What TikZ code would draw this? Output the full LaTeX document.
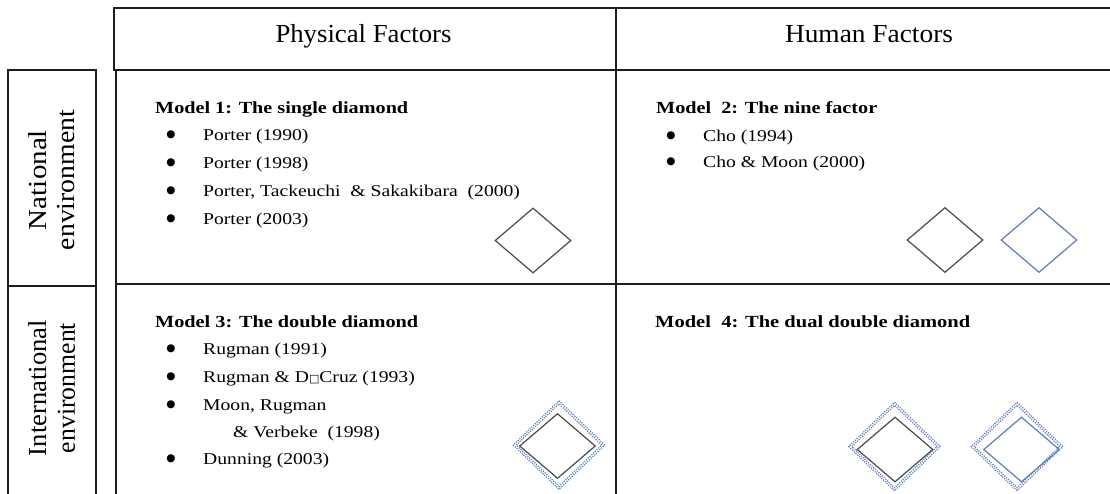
\documentclass[tikz,border=0pt]{standalone}
\usepackage{fontspec}
\usepackage{graphicx}
\setmainfont{Liberation Serif}
\newfontfamily\bodyf[FakeStretch=1.19]{Liberation Serif}
\newfontfamily\boxf{DejaVu Sans}
\usetikzlibrary{shapes.geometric}
\newcommand{\fitw}[2]{\resizebox{#1}{\height}{#2}}
\definecolor{rblue}{HTML}{5B7FB6}
\definecolor{rgray}{HTML}{4A4A4A}
\begin{document}
\begin{tikzpicture}[x=1pt,y=-1pt,
  gridline/.style={line width=2pt, draw=black!88},
  hdr/.style={font=\fontsize{26}{30}\selectfont, anchor=base, inner sep=0pt},
  mhead/.style={font=\fontsize{17}{20}\selectfont\bfseries, anchor=base west, inner sep=0pt},
  item/.style={font=\bodyf\fontsize{16.5}{20}\selectfont, anchor=base west, inner sep=0pt},
  bul/.style={font=\boxf\fontsize{10.5}{11}\selectfont, anchor=base, inner sep=0pt, yshift=2.2pt},
  side/.style={font=\fontsize{26}{28}\selectfont, rotate=90, align=center, inner sep=0pt},
  rh/.style={diamond, draw=rgray, line width=1.2pt, minimum width=76pt, minimum height=65pt, inner sep=0pt},
  rhblue/.style={rh, draw=rblue},
  dotrh/.style={diamond, draw=rblue, line width=1.2pt, dash pattern=on 1.2pt off 1.2pt, inner sep=0pt},
]
\useasboundingbox (0,0) rectangle (1110,493);
\fill[white] (0,0) rectangle (1110,493);

% header box
\coordinate (h1) at (114,8);
\coordinate (h2) at (1110,8);
\coordinate (h3) at (114,70);
\coordinate (h4) at (1110,70);
\draw[gridline] (h2) -- (h1) -- (h3) -- (h4);
% column divider
\coordinate (v1) at (616,8);
\coordinate (v2) at (616,494);
\draw[gridline] (v1) -- (v2);
% main grid left and row divider
\coordinate (g1) at (116,70);
\coordinate (g2) at (116,494);
\coordinate (r1) at (116,284);
\coordinate (r2) at (1110,284);
\draw[gridline] (g1) -- (g2);
\draw[gridline] (r1) -- (r2);
% side boxes
\coordinate (s1) at (8,494);
\coordinate (s2) at (8,70);
\coordinate (s3) at (96,70);
\coordinate (s4) at (96,494);
\coordinate (s5) at (8,286);
\coordinate (s6) at (96,286);
\draw[gridline] (s1) -- (s2) -- (s3) -- (s4);
\draw[gridline] (s5) -- (s6);

% headers
\node[hdr] (phys) at (363.5,42) {\fitw{176pt}{Physical Factors}};
\node[hdr] (hum) at (869,42) {\fitw{168pt}{Human Factors}};

% side labels
\node[side] (nat) at (52,180) {\fitw{100pt}{National}\\\fitw{140pt}{environment}};
\node[side] (intl) at (52,388) {\fitw{136pt}{International}\\\fitw{130pt}{environment}};

% Model 1
\node[mhead] (m1) at (155,113) {\fitw{253pt}{Model 1: The single diamond}};
\node[bul] (b11) at (171,140) {●};
\node[item] (t11) at (203,140) {Porter (1990)};
\node[bul] (b12) at (171,168) {●};
\node[item] (t12) at (203,168) {Porter (1998)};
\node[bul] (b13) at (171,196) {●};
\node[item] (t13) at (203,196) {Porter, Tackeuchi~~\& Sakakibara~~(2000)};
\node[bul] (b14) at (171,224) {●};
\node[item] (t14) at (203,224) {Porter (2003)};
\node[rh] (d1) at (533,240.5) {};

% Model 2
\node[mhead] (m2) at (656,113) {\fitw{221pt}{Model~~2: The nine factor}};
\node[bul] (b21) at (671,141) {●};
\node[item] (t21) at (703,141) {Cho (1994)};
\node[bul] (b22) at (671,167) {●};
\node[item] (t22) at (703,167) {Cho \& Moon (2000)};
\node[rh] (d2a) at (945,240) {};
\node[rhblue] (d2b) at (1039,240) {};

% Model 3
\node[mhead] (m3) at (155,327) {\fitw{263pt}{Model 3: The double diamond}};
\node[bul] (b31) at (171,354) {●};
\node[item] (t31) at (203,354) {Rugman (1991)};
\node[bul] (b32) at (171,382) {●};
\node[item] (t32) at (203,382) {Rugman \& D{\boxf\fontsize{11}{11}\selectfont □}Cruz (1993)};
\node[bul] (b33) at (171,410) {●};
\node[item] (t33) at (203,410) {Moon, Rugman};
\node[item] (t34) at (233,437) {\& Verbeke~~(1998)};
\node[bul] (b35) at (171,464) {●};
\node[item] (t35) at (203,464) {Dunning (2003)};
\node[dotrh, minimum width=92pt, minimum height=89pt] (d3o) at (559,445) {};
\node[dotrh, minimum width=86pt, minimum height=83pt] (d3p) at (559,445) {};
\node[rh] (d3) at (557.5,446) {};

% Model 4
\node[mhead] (m4) at (655,327) {\fitw{315pt}{Model~~4: The dual double diamond}};
\node[dotrh, minimum width=92pt, minimum height=89pt] (d4ao) at (894.5,446.5) {};
\node[dotrh, minimum width=86pt, minimum height=83pt] (d4ap) at (894.5,446.5) {};
\node[rh] (d4a) at (895,449.5) {};
\node[dotrh, minimum width=92pt, minimum height=89pt] (d4bo) at (1017,446.5) {};
\node[dotrh, minimum width=86pt, minimum height=83pt] (d4bp) at (1017,446.5) {};
\node[rhblue] (d4b) at (1021.5,449.5) {};
\end{tikzpicture}
\end{document}
